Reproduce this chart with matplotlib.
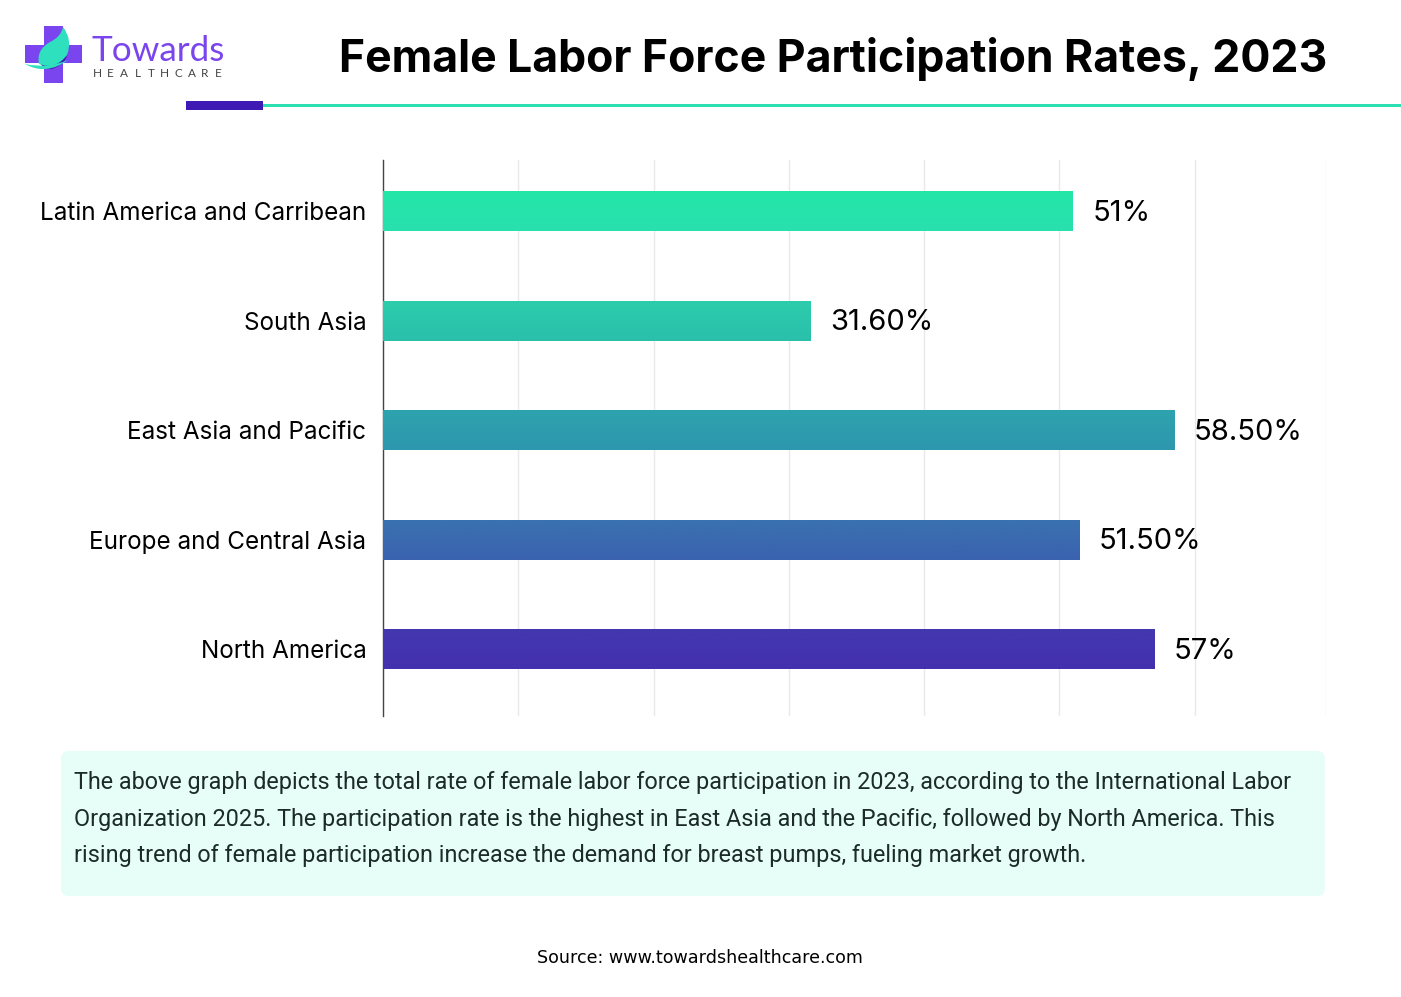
import numpy as np
import matplotlib
matplotlib.use("Agg")
import matplotlib.pyplot as plt
from matplotlib.patches import Rectangle, FancyBboxPatch, PathPatch
from matplotlib.path import Path
from matplotlib.colors import LinearSegmentedColormap

categories = ["Latin America and Carribean", "South Asia", "East Asia and Pacific",
              "Europe and Central Asia", "North America"]
values = [51, 31.6, 58.5, 51.5, 57]
value_labels = ["51%", "31.60%", "58.50%", "51.50%", "57%"]
bar_top = ["#24E6A8", "#2CCDAB", "#2DA3AE", "#3A72B0", "#4338B0"]
bar_bottom = ["#29E0AE", "#2ABFAC", "#2E97AD", "#3A62AF", "#4330AE"]
x_ticks = [0, 10, 20, 30, 40, 50, 60, 69.7]
title = "Female Labor Force Participation Rates, 2023"
body_lines = ["The above graph depicts the total rate of female labor force participation in 2023, according to the International Labor",
              "Organization 2025. The participation rate is the highest in East Asia and the Pacific, followed by North America. This",
              "rising trend of female participation increase the demand for breast pumps, fueling market growth."]
source = "Source: www.towardshealthcare.com"
logo_word = "Towards"
logo_sub = "HEALTHCARE"

W, H = 1401, 997
fig = plt.figure(figsize=(W / 100, H / 100), dpi=100, facecolor="white")
plt.rcParams["font.family"] = ["Inter", "DejaVu Sans"]

bg = fig.add_axes([0, 0, 1, 1])
bg.set_xlim(0, W)
bg.set_ylim(H, 0)
bg.axis("off")

bg.add_patch(Rectangle((263, 104.5), W - 263, 3, color="#2BDFB2", lw=0))
bg.add_patch(Rectangle((186, 101), 77, 9.5, color="#3F19B4", lw=0))
bg.text(833, 59, title, ha="center", va="center", fontsize=32.1, fontweight="bold", color="black")

# logo
purple = "#7A45EE"
C3 = Path.CURVE3
bg.add_patch(Rectangle((44, 26.5), 18.5, 57, color=purple, lw=0))
bg.add_patch(Rectangle((24.5, 45), 57.5, 18.5, color=purple, lw=0))
shadow = Path([(66, 44), (72, 62), (52, 69), (44, 70), (40, 63)],
              [Path.MOVETO, C3, C3, C3, C3])
bg.add_patch(PathPatch(shadow, fc="#3F19B4", ec="none"))
leaf = Path([(63, 27), (61, 37), (50, 42), (36, 50), (39, 64), (56, 70), (67, 55), (73, 40), (63, 27)],
            [Path.MOVETO, C3, C3, C3, C3, C3, C3, C3, C3])
bg.add_patch(PathPatch(leaf, fc="#2FE0BE", ec="none"))
swoosh = Path([(25, 64), (46, 76), (68, 60), (48, 69), (25, 64)],
              [Path.MOVETO, C3, C3, C3, C3])
bg.add_patch(PathPatch(swoosh, fc="#2FE0BE", ec="none"))
bg.text(92, 51, logo_word, ha="left", va="center", fontsize=25.3, color=purple, family="Lato")
for i, ch in enumerate(logo_sub):
    bg.text(97 + i * 13.5, 73.5, ch, ha="center", va="center", fontsize=8.5, color="#444444", family="Lato")

# note panel
bg.add_patch(FancyBboxPatch((66, 756), 1254, 135, boxstyle="round,pad=5,rounding_size=8",
                            fc="#E7FDF7", ec="none"))
for line, y in zip(body_lines, [782, 819, 855]):
    bg.text(74, y, line, ha="left", va="center", fontsize=16.8, color="#1C2B28", family="Roboto")
bg.text(700, 958, source, ha="center", va="center", fontsize=12.6, color="black", family="DejaVu Sans")

# chart
left, right, top, bottom = 383, 1326, 160, 716
ax = fig.add_axes([left / W, 1 - bottom / H, (right - left) / W, (bottom - top) / H])
ax.patch.set_alpha(0)
y = np.arange(len(categories))
bar_h = 0.365
bars = ax.barh(y, values, height=bar_h, color=bar_top, zorder=2)
for bar, c0, c1, v, yi, lab in zip(bars, bar_top, bar_bottom, values, y, value_labels):
    cmap = LinearSegmentedColormap.from_list("g", [c0, c1])
    im = ax.imshow(np.linspace(0, 1, 64).reshape(-1, 1), cmap=cmap, aspect="auto", zorder=3,
                   extent=[0, v, yi + bar_h / 2, yi - bar_h / 2])
    im.set_clip_path(bar)
    ax.annotate(lab, (v, yi), xytext=(13.8, -1.5), textcoords="offset points", ha="left", va="center",
                fontsize=21, color="black", zorder=4)
ax.set_xlim(0, 69.7)
ax.set_ylim(4 + 66.5 / 109.6, -51 / 109.6)
ax.set_xticks(x_ticks)
ax.set_yticks(y)
ax.set_yticklabels(categories, fontsize=17.45, color="black")
ax.tick_params(axis="both", length=0, labelbottom=False)
ax.tick_params(axis="y", pad=12)
ax.grid(axis="x", color="#E9E9E9", lw=1, zorder=0)
ax.set_axisbelow(True)
for s in ["top", "right", "bottom"]:
    ax.spines[s].set_visible(False)
ax.spines["left"].set_color("#444444")
ax.spines["left"].set_linewidth(1)

fig.savefig("out.png", dpi=100, facecolor="white")
